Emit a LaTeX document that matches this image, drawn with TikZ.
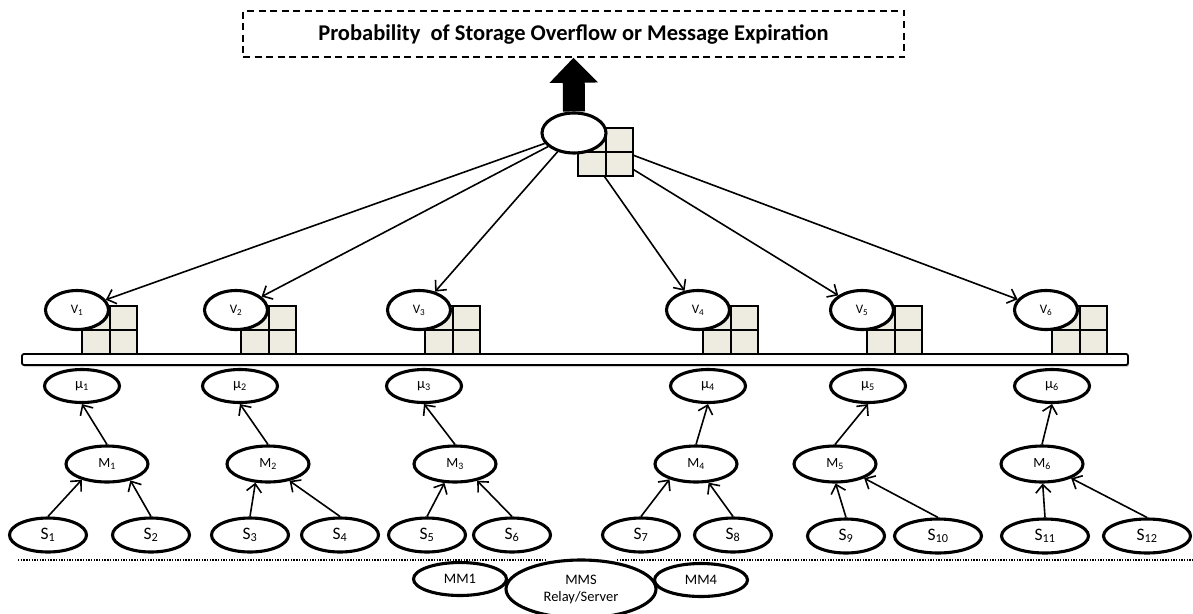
\documentclass[tikz,border=0pt]{standalone}
\usepackage{fontspec}
\setmainfont{Carlito}
\usetikzlibrary{arrows.meta,shapes.geometric,shadows}
\pgfdeclarelayer{bg}
\pgfdeclarelayer{mid}
\pgfsetlayers{bg,mid,main}
\definecolor{cellfill}{RGB}{238,236,225}
\tikzset{
  ell/.style={draw, ellipse, fill=white, line width=3.1pt, inner sep=0pt},
  vnode/.style={ell, minimum width=63pt, minimum height=39pt, font=\fontsize{13}{14}\selectfont},
  munode/.style={ell, minimum width=75pt, minimum height=33pt, font=\fontsize{14.5}{16}\selectfont},
  mnode/.style={ell, minimum width=82pt, minimum height=36pt, font=\fontsize{14}{15}\selectfont},
  snode/.style={ell, minimum width=77pt, minimum height=34pt, font=\fontsize{17.5}{19}\selectfont},
  swide/.style={snode, minimum width=87pt},
  mmnode/.style={ell, minimum width=93pt, minimum height=33pt, font=\fontsize{14.5}{16}\selectfont},
  arr/.style={line width=1.6pt, -{Straight Barb[length=8pt,width=15pt,line width=1.6pt]}},
  cellbox/.style={fill=cellfill, draw, line width=2pt},
  dotline/.style={line width=2pt, dash pattern=on 1.4pt off 1.3pt},
  store/.pic={\filldraw[cellbox] (0,0) rectangle (55,48);
              \draw[line width=2pt] (27.5,0)--(27.5,48) (0,24)--(55,24);},
}
\begin{document}
\begin{tikzpicture}[x=1pt,y=-1pt]
\useasboundingbox (0,0) rectangle (1193,613);
% title box
\node[draw, dash pattern=on 7pt off 4.5pt, line width=1.4pt, minimum width=661pt,
      minimum height=46pt, font=\bfseries\fontsize{22.5}{24}\selectfont]
      (title) at (573.5,34) {Probability\ \ of Storage Overflow or Message Expiration};
% top node
\node[ell, minimum width=64pt, minimum height=40pt] (top) at (574,133) {};
\draw[line width=22pt, -{Triangle[length=25pt,width=47pt]}] (top.north) -- (title.south);
% bar
\node[draw, fill=white, line width=1.8pt, rounded corners=2pt, minimum width=1106pt,
      minimum height=11pt, inner sep=0pt,
      drop shadow={shadow xshift=1pt, shadow yshift=-2pt, opacity=0.35}] (bar) at (575,359.5) {};
% V nodes
\node[vnode] (v1) at (77,310) {V\textsubscript{1}};
\node[vnode] (v2) at (236,310) {V\textsubscript{2}};
\node[vnode] (v3) at (419,310) {V\textsubscript{3}};
\node[vnode] (v4) at (698,310) {V\textsubscript{4}};
\node[vnode] (v5) at (862,310) {V\textsubscript{5}};
\node[vnode] (v6) at (1046,310) {V\textsubscript{6}};
% storage grids
\begin{pgfonlayer}{mid}
\pic at (578,128) {store};
\pic at (82,306) {store};
\pic at (241,306) {store};
\pic at (425,306) {store};
\pic at (703,306) {store};
\pic at (867,306) {store};
\pic at (1052,306) {store};
\end{pgfonlayer}
% top -> V
\begin{pgfonlayer}{bg}
\foreach \i in {1,...,6} \draw[arr] (top) -- (v\i);
\end{pgfonlayer}
% mu nodes
\node[munode] (mu1) at (82,386) {μ\textsubscript{1}};
\node[munode] (mu2) at (240,386) {μ\textsubscript{2}};
\node[munode] (mu3) at (424,386) {μ\textsubscript{3}};
\node[munode] (mu4) at (708,386) {μ\textsubscript{4}};
\node[munode] (mu5) at (868,386) {μ\textsubscript{5}};
\node[munode] (mu6) at (1052,386) {μ\textsubscript{6}};
% M nodes
\node[mnode] (m1) at (107,464) {M\textsubscript{1}};
\node[mnode] (m2) at (268,464) {M\textsubscript{2}};
\node[mnode] (m3) at (455,464) {M\textsubscript{3}};
\node[mnode] (m4) at (696,464) {M\textsubscript{4}};
\node[mnode] (m5) at (835,464) {M\textsubscript{5}};
\node[mnode] (m6) at (1042,464) {M\textsubscript{6}};
\foreach \i in {1,...,6} \draw[arr] (m\i.north) -- (mu\i.south);
% S nodes
\node[snode] (s1) at (48,535) {S\textsubscript{1}};
\node[snode] (s2) at (151,535) {S\textsubscript{2}};
\node[snode] (s3) at (250,535) {S\textsubscript{3}};
\node[snode] (s4) at (340,535) {S\textsubscript{4}};
\node[snode] (s5) at (427,535) {S\textsubscript{5}};
\node[snode] (s6) at (512,535) {S\textsubscript{6}};
\node[snode] (s7) at (641,535) {S\textsubscript{7}};
\node[snode] (s8) at (733,535) {S\textsubscript{8}};
\node[snode] (s9) at (846,536) {S\textsubscript{9}};
\node[swide] (s10) at (938,536) {S\textsubscript{10}};
\node[swide] (s11) at (1045,536) {S\textsubscript{11}};
\node[swide] (s12) at (1147,536) {S\textsubscript{12}};
\draw[arr] (s1.north) -- (m1.212);
\draw[arr] (s2.north) -- (m1.325);
\draw[arr] (s3.north) -- (m2.236);
\draw[arr] (s4.north) -- (m2.322);
\draw[arr] (s5.north) -- (m3.241);
\draw[arr] (s6.north) -- (m3.323);
\draw[arr] (s7.north) -- (m4.210);
\draw[arr] (s8.north) -- (m4.304);
\draw[arr] (s9.north) -- (m5.272);
\draw[arr] (s10.north) -- (m5.334);
\draw[arr] (s11.north) -- (m6.272);
\draw[arr] (s12.north) -- (m6.334);
% dotted separators
\coordinate (d1) at (18,560);
\coordinate (d2) at (545,560);
\coordinate (d3) at (617,560);
\coordinate (d4) at (1193,560);
\draw[dotline] (d1) -- (d2);
\draw[dotline] (d3) -- (d4);
% bottom servers
\node[mmnode] (mm1) at (460,579) {MM1};
\node[ell, minimum width=150pt, minimum height=58pt, align=center,
      font=\fontsize{14.5}{17}\selectfont] (mms) at (581,589) {MMS\\Relay/Server};
\node[mmnode] (mm4) at (701,580) {MM4};
\end{tikzpicture}
\end{document}
